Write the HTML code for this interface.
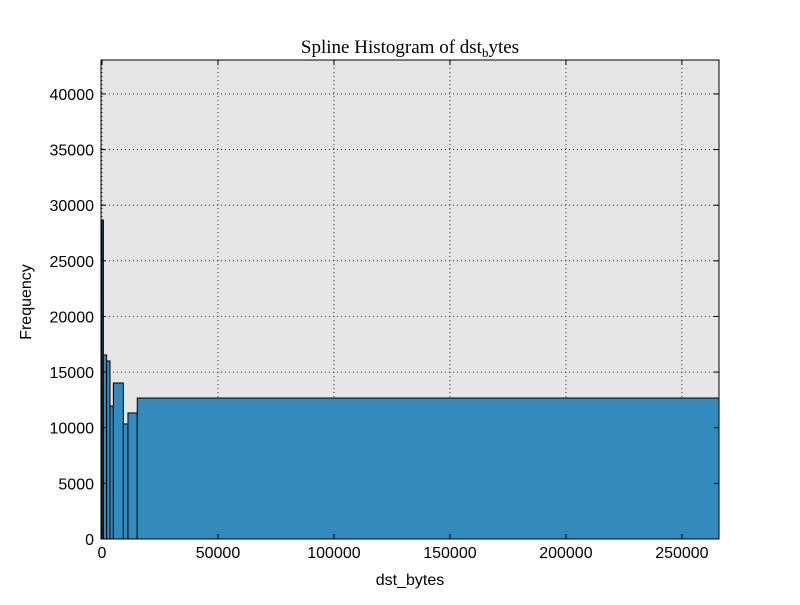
<!DOCTYPE html>
<html><head><meta charset="utf-8"><style>
body{margin:0;background:#fff;}
svg text{font-family:"Liberation Sans",sans-serif;}
</style></head><body>
<svg id="chart" width="800" height="600">
<rect x="0" y="0" width="800" height="600" fill="#fff"/>
<rect x="101" y="60" width="618" height="479" fill="#e5e5e5"/>
<g id="grid"></g>
<g id="bars"></g>
<g id="ticks"></g>
<rect x="101" y="60" width="618" height="479" fill="none" stroke="#000" stroke-width="1"/>
<text x="410" y="53" text-anchor="middle" font-size="19" style="font-family:'Liberation Serif',serif">Spline Histogram of dst<tspan font-size="13" dy="4">b</tspan><tspan dy="-4">ytes</tspan></text>
<text x="410" y="585" text-anchor="middle" font-size="16">dst_bytes</text>
<text x="31" y="302" text-anchor="middle" font-size="16" transform="rotate(-90 31 302)">Frequency</text>
</svg>
<script>
const binEdges=[0,600,2000,3450,4900,9200,11200,15200,266000];
const counts=[28670,16540,16000,11950,14020,10340,11330,12670];
const xTicks=[0,50000,100000,150000,200000,250000];
const yTicks=[0,5000,10000,15000,20000,25000,30000,35000,40000];
const L=101,R=719,T=60,B=539,XMIN=-430,XMAX=266000,YMAX=43050;
const sx=v=>L+(v-XMIN)/(XMAX-XMIN)*(R-L);
const sy=v=>B-v/YMAX*(B-T);
const NS="http://www.w3.org/2000/svg";
const g=document.getElementById('grid'),bg=document.getElementById('bars'),tg=document.getElementById('ticks');
function mk(tag,at,parent){const e=document.createElementNS(NS,tag);for(const k in at)e.setAttribute(k,at[k]);parent.appendChild(e);return e;}
xTicks.forEach(v=>{const x=sx(v);
 const l=mk('line',{x1:x,x2:x,y1:T,y2:B,stroke:'#000','stroke-dasharray':'1,3','stroke-width':0.8},g);
 
 
 mk('line',{x1:x,x2:x,y1:B,y2:B-5,stroke:'#000'},tg);
 mk('line',{x1:x,x2:x,y1:T,y2:T+5,stroke:'#000'},tg);
 const t=mk('text',{x:x,y:B+19,'text-anchor':'middle','font-size':16},tg);t.textContent=v;
 
 
});
yTicks.forEach(v=>{const y=sy(v);
 const l=mk('line',{x1:L,x2:R,y1:y,y2:y,stroke:'#000','stroke-dasharray':'1,3','stroke-width':0.8},g);
 
 
 mk('line',{x1:L,x2:L+5,y1:y,y2:y,stroke:'#000'},tg);
 mk('line',{x1:R,x2:R-5,y1:y,y2:y,stroke:'#000'},tg);
 const t=mk('text',{x:L-7,y:y+6,'text-anchor':'end','font-size':16},tg);t.textContent=v;
 
 
});
counts.forEach((c,i)=>{const x0=sx(binEdges[i]),x1=sx(binEdges[i+1]);
 const r=mk('rect',{x:x0,y:sy(c),width:x1-x0,height:B-sy(c),fill:'#348abd',stroke:'#000','stroke-width':1},bg);
 
 
});
</script>
</body></html>
